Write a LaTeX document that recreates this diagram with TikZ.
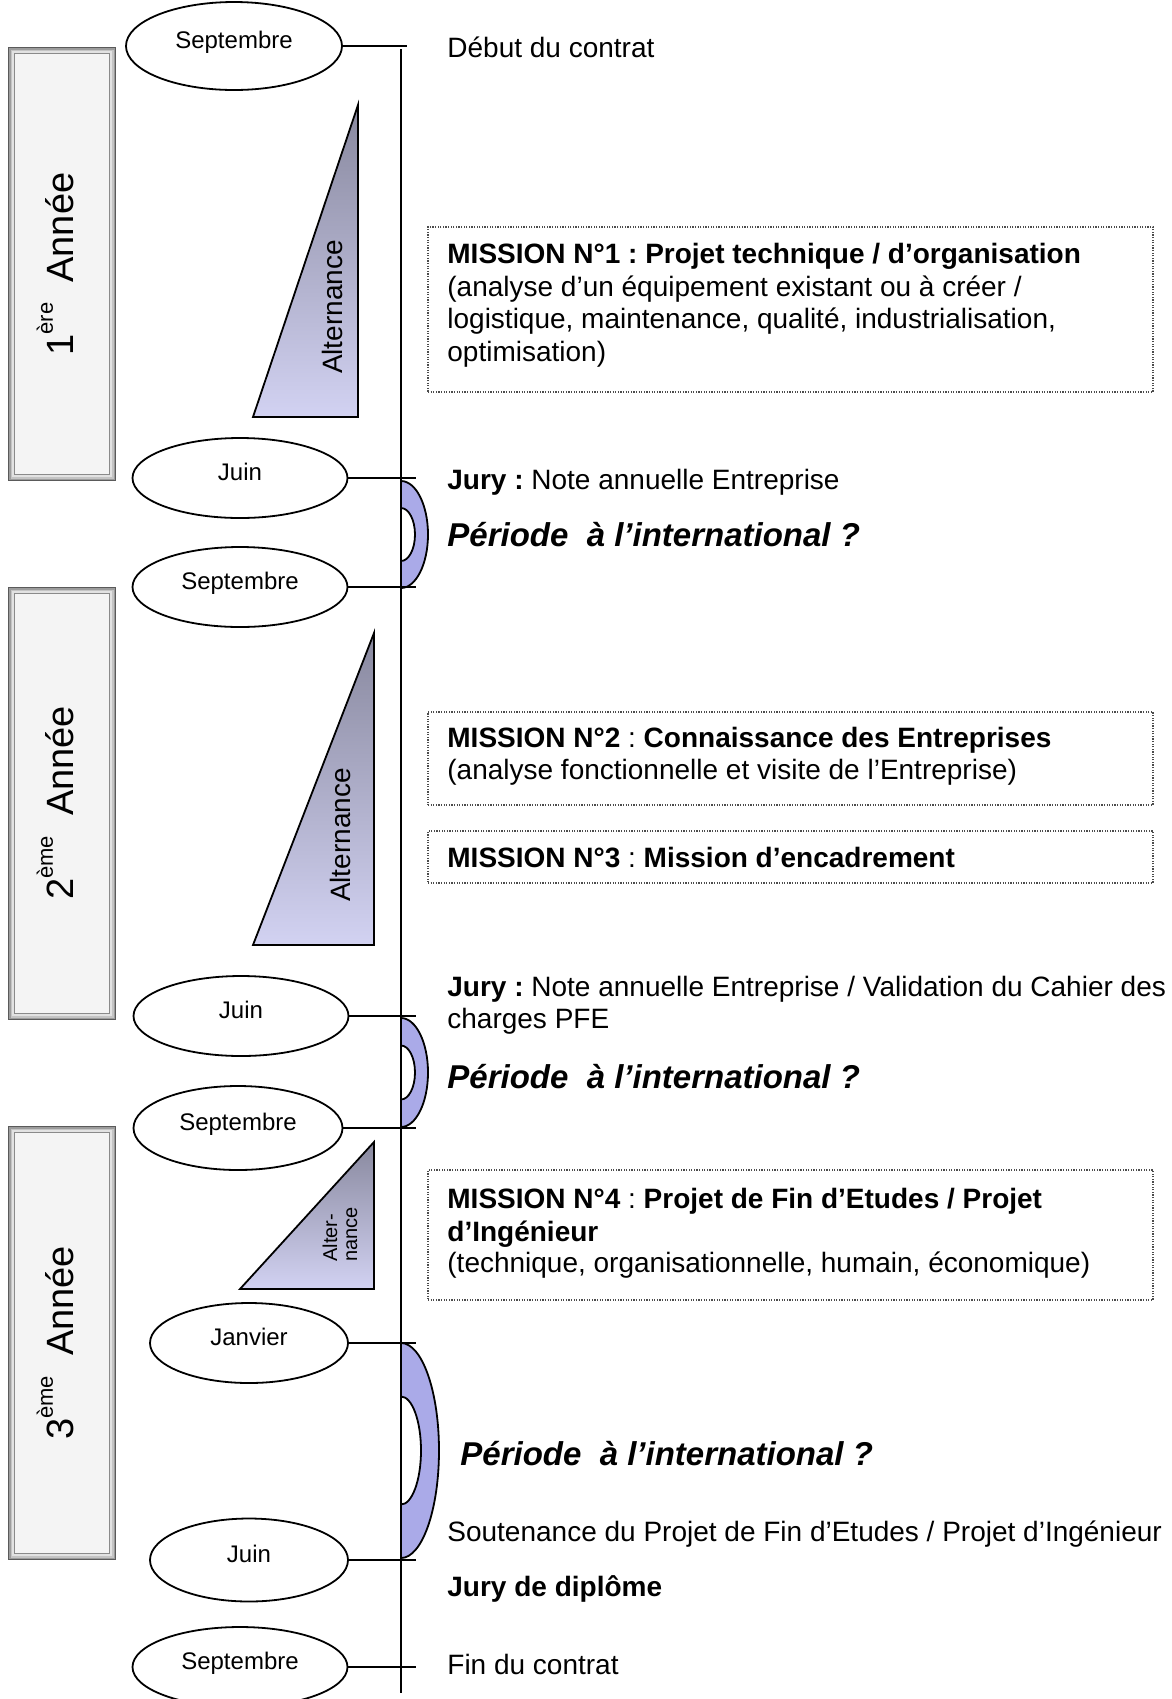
\documentclass[tikz,border=0pt]{standalone}
\usepackage{fontspec}
\setmainfont{Liberation Sans}
\usetikzlibrary{shapes.geometric}
\frenchspacing
\definecolor{brkfill}{RGB}{170,170,232}
\definecolor{tritop}{RGB}{136,136,158}
\definecolor{tribot}{RGB}{210,210,242}
\definecolor{ybA}{RGB}{90,90,90}
\definecolor{ybB}{RGB}{156,156,156}
\definecolor{ybC}{RGB}{196,196,196}
\definecolor{ybD}{RGB}{226,226,226}
\definecolor{ybE}{RGB}{138,138,138}
\definecolor{ybF}{RGB}{244,244,244}
\newcommand\yrbox[2]{%
  \fill[ybA] (8,#1) rectangle (116,#2);
  \fill[ybB] (9,#1+1) rectangle (115,#2-1);
  \fill[ybC] (10.5,#1+2.5) rectangle (113.5,#2-2.5);
  \fill[ybD] (12,#1+4) rectangle (112,#2-4);
  \fill[ybE] (14,#1+6) rectangle (110,#2-6);
  \fill[ybF] (15,#1+7) rectangle (109,#2-7);
}
\begin{document}
\begin{tikzpicture}[x=0.5pt,y=-0.5pt,
  month/.style={draw, line width=0.9pt, ellipse, inner sep=0pt,
    font=\fontsize{12}{14}\selectfont, text height=2.5pt, text depth=0pt},
  conn/.style={line width=0.9pt},
  mbox/.style={draw=black!70, line width=0.6pt, dash pattern=on 0.6pt off 0.7pt,
    rectangle, inner sep=0pt, minimum width=362.5pt},
  txt/.style={anchor=base west, inner sep=0pt, font=\fontsize{14}{16}\selectfont},
  per/.style={anchor=base west, inner sep=0pt, font=\fontsize{16.5}{19}\selectfont\bfseries\itshape},
  alt/.style={rotate=90, inner sep=0pt, font=\fontsize{14}{16}\selectfont},
  altsmall/.style={rotate=90, anchor=base west, inner sep=0pt, font=\fontsize{10}{12}\selectfont},
  year/.style={rotate=90, anchor=base, inner sep=0pt, font=\fontsize{19}{22}\selectfont},
  tri/.style={draw, line width=0.9pt, top color=tritop, bottom color=tribot},
  brkline/.style={line width=0.9pt},
]
\useasboundingbox (0,0) rectangle (1172,1699);
\clip (0,0) rectangle (1172,1699);

% year boxes
\yrbox{47}{481}
\yrbox{587}{1020}
\yrbox{1126}{1560}
\node[year] (y1) at (73,264) {1\raisebox{10pt}{\fontsize{11}{11}\selectfont ère}\hspace{10pt}Année};
\node[year] (y2) at (73,803) {2\raisebox{10pt}{\fontsize{11}{11}\selectfont ème}\hspace{10pt}Année};
\node[year] (y3) at (73,1343) {3\raisebox{10pt}{\fontsize{11}{11}\selectfont ème}\hspace{10pt}Année};

% triangles
\shadedraw[tri] (358,105) -- (358,417) -- (253,417) -- cycle;
\shadedraw[tri] (374,633) -- (374,945) -- (253,945) -- cycle;
\shadedraw[tri] (374,1142) -- (374,1289) -- (240,1289) -- cycle;
\node[alt, anchor=base] (a1) at (342,307) {Alternance};
\node[alt, anchor=base] (a2) at (350,835) {Alternance};
\node[altsmall] (a3a) at (337,1262) {Alter-};
\node[altsmall] (a3b) at (357,1262) {nance};

% month ellipses
\node[month, minimum width=108pt, minimum height=44pt] (s1) at (234,46) {Septembre};
\node[month, minimum width=107.5pt, minimum height=40pt] (j1) at (240,478) {Juin};
\node[month, minimum width=107.5pt, minimum height=40pt] (s2) at (240,587) {Septembre};
\node[month, minimum width=107.5pt, minimum height=40pt] (j2) at (241,1016) {Juin};
\node[month, minimum width=104.5pt, minimum height=42pt] (s3) at (238,1128) {Septembre};
\node[month, minimum width=99pt, minimum height=40pt] (ja) at (249,1343) {Janvier};
\node[month, minimum width=99pt, minimum height=41.5pt] (j3) at (249,1560) {Juin};
\node[month, minimum width=107.5pt, minimum height=40pt] (s4) at (240,1667) {Septembre};

% brackets
\fill[brkfill] (401,481) arc[start angle=90, end angle=-90, x radius=13.5pt, y radius=26.75pt] -- cycle;
\fill[white] (401,508) arc[start angle=90, end angle=-90, x radius=7pt, y radius=13.25pt] -- cycle;
\draw[brkline] (401,481) arc[start angle=90, end angle=-90, x radius=13.5pt, y radius=26.75pt];
\draw[brkline] (401,508) arc[start angle=90, end angle=-90, x radius=7pt, y radius=13.25pt];

\fill[brkfill] (401,1018) arc[start angle=90, end angle=-90, x radius=13.5pt, y radius=27.25pt] -- cycle;
\fill[white] (401,1045.5) arc[start angle=90, end angle=-90, x radius=7pt, y radius=13.5pt] -- cycle;
\draw[brkline] (401,1018) arc[start angle=90, end angle=-90, x radius=13.5pt, y radius=27.25pt];
\draw[brkline] (401,1045.5) arc[start angle=90, end angle=-90, x radius=7pt, y radius=13.5pt];

\fill[brkfill] (401,1343) arc[start angle=90, end angle=-90, x radius=19pt, y radius=53.75pt] -- cycle;
\fill[white] (401,1396.5) arc[start angle=90, end angle=-90, x radius=10pt, y radius=27pt] -- cycle;
\draw[brkline] (401,1343) arc[start angle=90, end angle=-90, x radius=19pt, y radius=53.75pt];
\draw[brkline] (401,1396.5) arc[start angle=90, end angle=-90, x radius=10pt, y radius=27pt];

% timeline
\coordinate (vtop) at (401,49);
\coordinate (vbot) at (401,1693);
\coordinate (xa) at (407,0);
\coordinate (xb) at (416,0);
\draw[conn] (vtop) -- (vbot);
\draw[conn] (s1.east) -- (s1.east -| xa);
\draw[conn] (j1.east) -- (j1.east -| xb);
\draw[conn] (s2.east) -- (s2.east -| xb);
\draw[conn] (j2.east) -- (j2.east -| xb);
\draw[conn] (s3.east) -- (s3.east -| xb);
\draw[conn] (ja.east) -- (ja.east -| xb);
\draw[conn] (j3.east) -- (j3.east -| xb);
\draw[conn] (s4.east) -- (s4.east -| xb);

% mission boxes
\node[mbox, minimum height=82.5pt] (m1) at (790.5,309.5) {};
\node[mbox, minimum height=46.5pt] (m2) at (790.5,758.5) {};
\node[mbox, minimum height=26pt] (m3) at (790.5,857) {};
\node[mbox, minimum height=65pt] (m4) at (790.5,1235) {};

% texts
\node[txt] (t0) at (447,57) {Début du contrat};
\node[txt] (m1a) at (447,263.5) {\textbf{MISSION N°1 : Projet technique / d’organisation}};
\node[txt] (m1b) at (447,296) {(analyse d’un équipement existant ou à créer /};
\node[txt] (m1c) at (447,328.5) {logistique, maintenance, qualité, industrialisation,};
\node[txt] (m1d) at (447,361) {optimisation)};
\node[txt] (jy1) at (447,489) {\textbf{Jury :} Note annuelle Entreprise};
\node[per] (p1) at (447,546) {Période\ \ à l’international ?};
\node[txt] (m2a) at (447,747) {\textbf{MISSION N°2} : \textbf{Connaissance des Entreprises}};
\node[txt] (m2b) at (447,779) {(analyse fonctionnelle et visite de l’Entreprise)};
\node[txt] (m3a) at (447,867) {\textbf{MISSION N°3} : \textbf{Mission d’encadrement}};
\node[txt] (jy2a) at (447,996) {\textbf{Jury :} Note annuelle Entreprise / Validation du Cahier des};
\node[txt] (jy2b) at (447,1028) {charges PFE};
\node[per] (p2) at (447,1088) {Période\ \ à l’international ?};
\node[txt] (m4a) at (447,1208) {\textbf{MISSION N°4} : \textbf{Projet de Fin d’Etudes / Projet}};
\node[txt] (m4b) at (447,1241) {\textbf{d’Ingénieur}};
\node[txt] (m4c) at (447,1272) {(technique, organisationnelle, humain, économique)};
\node[per] (p3) at (460,1465) {Période\ \ à l’international ?};
\node[txt] (sout) at (447,1541) {Soutenance du Projet de Fin d’Etudes / Projet d’Ingénieur};
\node[txt] (jyd) at (447,1596) {\textbf{Jury de diplôme}};
\node[txt] (fin) at (447,1674) {Fin du contrat};
\end{tikzpicture}
\end{document}
